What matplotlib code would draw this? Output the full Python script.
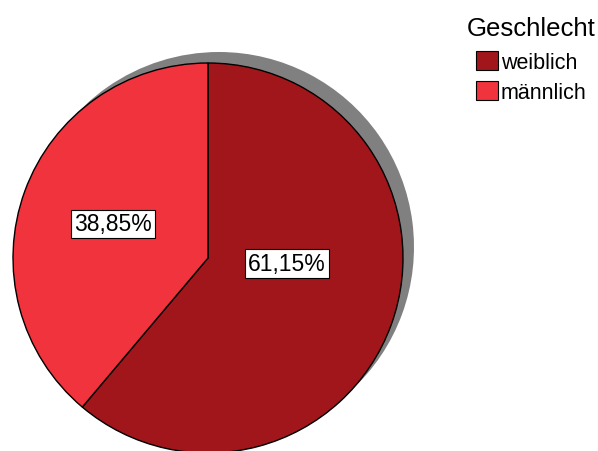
import matplotlib
matplotlib.use("Agg")
import matplotlib.pyplot as plt
from matplotlib.patches import Patch

categories = ["weiblich", "männlich"]
values = [61.15, 38.85]
colors = ["#A0161B", "#F0333D"]
legend_title = "Geschlecht"

W, H = 598, 452
fig = plt.figure(figsize=(W / 100, H / 100), dpi=100)
ax = fig.add_axes([0, 0, 1, 1])

cx, cy, r = 208, H - 259, 195
# shadow
ax.pie(values, colors=["#808080"] * 2, startangle=90, counterclock=False,
       center=(cx + 11, cy + 11), radius=r, frame=True,
       wedgeprops=dict(linewidth=0, zorder=1))
wedges, _ = ax.pie(values, colors=colors, startangle=90, counterclock=False,
                   center=(cx, cy), radius=r, frame=True,
                   wedgeprops=dict(edgecolor="black", linewidth=1.0, zorder=2))
ax.set_xlim(0, W)
ax.set_ylim(0, H)
ax.set_aspect("equal")
ax.axis("off")

label_pos = [(287, H - 264.5), (113, H - 225)]
for v, (x, y) in zip(values, label_pos):
    ax.text(x, y, f"{v:.2f}%".replace(".", ","), ha="center", va="center",
            fontsize=16.5, family="Liberation Sans", zorder=5,
            bbox=dict(boxstyle="square,pad=0.12", fc="white", ec="black", lw=0.8))

handles = [Patch(facecolor=c, edgecolor="black", linewidth=0.8) for c in colors]
leg = ax.legend(handles, categories, title=legend_title, loc="upper left",
                bbox_to_anchor=(467 / W, 1 - 17 / H), frameon=False,
                prop=dict(family="Liberation Sans", size=15.5),
                title_fontproperties=dict(family="Liberation Sans", size=18.5),
                handlelength=1.0, handleheight=1.0, handletextpad=0.15,
                labelspacing=0.38, borderaxespad=0, borderpad=0)
leg._legend_box.sep = leg._legend_box.sep + 2.0

fig.savefig("out.png", dpi=100)
